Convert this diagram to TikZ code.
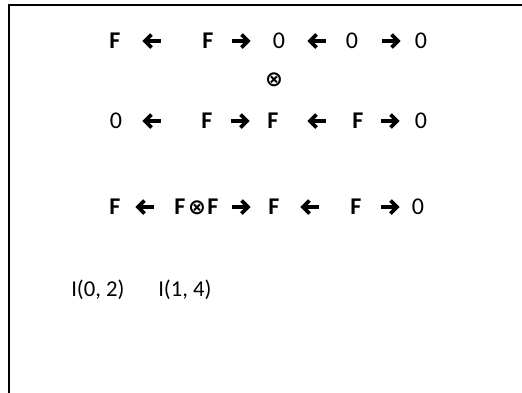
\documentclass[tikz,border=0pt]{standalone}
\usepackage{fontspec}
\setmainfont{Carlito}
\newfontfamily\symfont{DejaVu Sans}
\tikzset{
  lbl/.style={inner sep=0pt, font=\fontsize{18pt}{21pt}\selectfont},
  bl/.style={lbl, font=\fontsize{18pt}{21pt}\selectfont\bfseries},
  big/.style={inner sep=0pt, font=\fontsize{17pt}{20pt}\selectfont, anchor=west},
  otimes/.style={inner sep=0pt, font=\fontsize{16pt}{18pt}\symfont\bfseries},
  frame/.style={line width=2.2pt},
  shaft/.style={line width=2.6pt},
  head/.style={line width=2.9pt, line join=miter, line cap=butt},
  rarr/.pic={\draw[shaft] (-9,0)--(5,0); \draw[head] (0.5,-6.5)--(7,0)--(0.5,6.5);},
  larr/.pic={\draw[shaft] (9,0)--(-5,0); \draw[head] (-0.5,-6.5)--(-7,0)--(-0.5,6.5);}
}
\begin{document}
\begin{tikzpicture}[x=0.75pt,y=-0.75pt]
\useasboundingbox (0,0) rectangle (522,393);
\coordinate (tl) at (9,5);
\coordinate (tr) at (522,5);
\coordinate (bl0) at (9,393);
\draw[frame] (tr) -- (tl) -- (bl0);
% row 1
\node[bl] (r1a) at (115,41) {F};
\pic (r1b) at (152,41) {larr};
\node[bl] (r1c) at (208,41) {F};
\pic (r1d) at (241,41) {rarr};
\node[lbl] (r1e) at (279,41) {0};
\pic (r1f) at (317,41) {larr};
\node[lbl] (r1g) at (352,41) {0};
\pic (r1h) at (391,41) {rarr};
\node[lbl] (r1i) at (421,41) {0};
% cross
\node[otimes] (x1) at (274,80) {⊗};
% row 3
\node[lbl] (r3a) at (116,121) {0};
\pic (r3b) at (152,121) {larr};
\node[bl] (r3c) at (207,121) {F};
\pic (r3d) at (240,121) {rarr};
\node[bl] (r3e) at (273,121) {F};
\pic (r3f) at (317,121) {larr};
\node[bl] (r3g) at (358,121) {F};
\pic (r3h) at (390,121) {rarr};
\node[lbl] (r3i) at (421,121) {0};
% row 4
\node[bl] (r4a) at (115,207) {F};
\pic (r4b) at (145,207) {larr};
\node[bl] (r4c) at (180,207) {F};
\node[otimes] (x2) at (197,208) {⊗};
\node[bl] (r4d) at (213,207) {F};
\pic (r4e) at (241,207) {rarr};
\node[bl] (r4f) at (274,207) {F};
\pic (r4g) at (310,207) {larr};
\node[bl] (r4h) at (356,207) {F};
\pic (r4i) at (390,207) {rarr};
\node[lbl] (r4j) at (418,207) {0};
% row 5
\node[big] (i1) at (71,290) {I(0, 2)};
\node[big] (i2) at (158,290) {I(1, 4)};
\end{tikzpicture}
\end{document}
